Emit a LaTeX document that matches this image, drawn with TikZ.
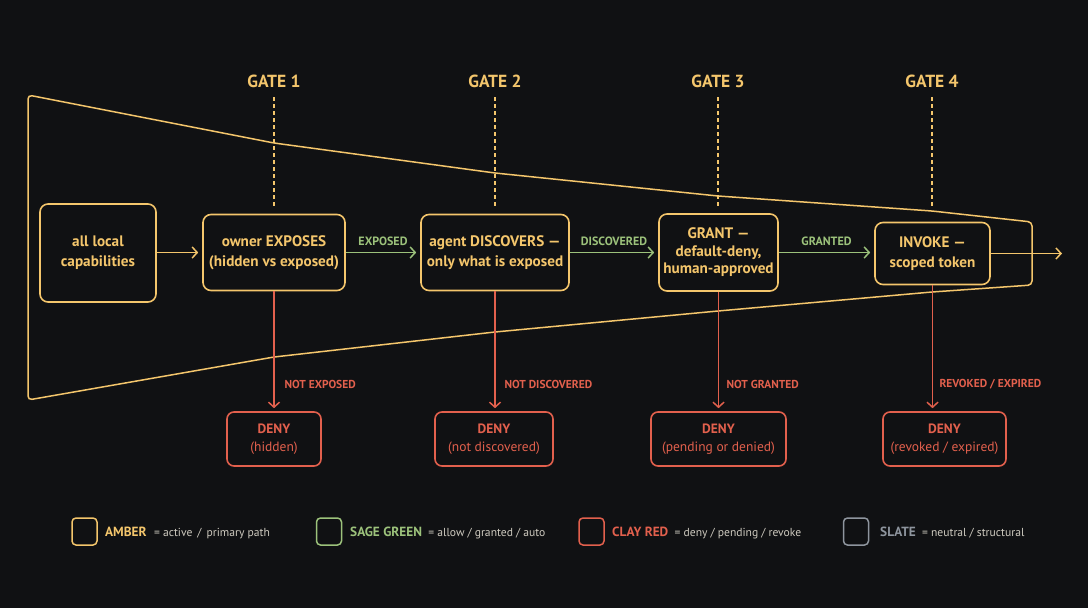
\documentclass[tikz,border=0pt]{standalone}
\usepackage{fontspec}
\setmainfont{PT Sans}
\usetikzlibrary{arrows.meta}
\definecolor{bg}{HTML}{101113}
\definecolor{amber}{HTML}{F4C66C}
\definecolor{sage}{HTML}{9CC27B}
\definecolor{clay}{HTML}{E2604D}
\definecolor{slate}{HTML}{8E959E}
\definecolor{desc}{HTML}{CFCBC0}
\begin{document}
\begin{tikzpicture}[x=1pt,y=-1pt,
  box/.style={draw=amber, line width=1.6pt, rounded corners=8pt, fill=bg, text=amber, align=center, inner sep=2pt,
    font=\fontsize{15.2}{20}\selectfont\bfseries},
  denybox/.style={draw=clay, line width=1.6pt, rounded corners=7pt, fill=bg, text=clay, align=center, inner sep=2pt,
    minimum height=54, font=\fontsize{13.5}{18}\selectfont},
  gatelbl/.style={text=amber, font=\fontsize{17.5}{20}\selectfont\bfseries},
  gateline/.style={draw=amber, line width=1.1pt, dash pattern=on 4pt off 3pt},
  tip/.style={-{Straight Barb[length=5pt,width=11pt,line width=1.5pt]}},
  amberarrow/.style={draw=amber, line width=1.5pt, tip},
  greenarrow/.style={draw=sage, line width=1.5pt, tip},
  redarrow/.style={draw=clay, line width=1.5pt, tip},
  greenlbl/.style={text=sage, font=\fontsize{12}{14}\selectfont\bfseries},
  redlbl/.style={text=clay, anchor=west, font=\fontsize{11.5}{14}\selectfont\bfseries},
  legsq/.style={draw=#1, line width=1.5pt, rounded corners=4pt, minimum width=25, minimum height=27, inner sep=0pt},
  legname/.style={anchor=west, text=#1, inner sep=0pt, font=\fontsize{13.3}{15}\selectfont\bfseries},
  legdesc/.style={anchor=base west, text=desc, inner sep=0pt, font=\fontsize{11.6}{14}\selectfont}
]
\fill[bg] (0,0) rectangle (1088,608);
\useasboundingbox (0,0) rectangle (1088,608);

% funnel
\draw[amber, line width=1.5pt, rounded corners=4pt]
  (28,95) -- (274,143) -- (495,173) -- (718,196) -- (932,211) -- (1032,222)
  -- (1032,285) -- (932,292) -- (718,311) -- (495,332) -- (274,357) -- (28,400) -- cycle;

% gates
\node[gatelbl] (g1) at (274,81) {GATE 1};
\node[gatelbl] (g2) at (495,81) {GATE 2};
\node[gatelbl] (g3) at (718,81) {GATE 3};
\node[gatelbl] (g4) at (932,81) {GATE 4};
\coordinate (g1b) at (274,208);
\coordinate (g2b) at (495,208);
\coordinate (g3b) at (718,208);
\coordinate (g4b) at (932,208);
\coordinate (g1t) at (274,97);
\coordinate (g2t) at (495,97);
\coordinate (g3t) at (718,97);
\coordinate (g4t) at (932,97);
\draw[gateline] (g1t) -- (g1b);
\draw[gateline] (g2t) -- (g2b);
\draw[gateline] (g3t) -- (g3b);
\draw[gateline] (g4t) -- (g4b);

% main boxes
\node[box, minimum width=116, minimum height=98] (cap) at (98,253) {all local\\capabilities};
\node[box, minimum width=142, minimum height=76] (own) at (274,252.5) {owner EXPOSES\\(hidden vs exposed)};
\node[box, minimum width=148, minimum height=76] (agt) at (495,252.5) {agent DISCOVERS ---\\only what is exposed};
\node[box, minimum width=119, minimum height=77, font=\fontsize{15.2}{17.5}\selectfont\bfseries] (grt) at (718.5,252.5) {GRANT ---\\default-deny,\\human-approved};
\node[box, minimum width=115, minimum height=62] (inv) at (932.5,253.5) {INVOKE ---\\scoped token};

% deny boxes
\node[denybox, minimum width=94] (d1) at (274,439) {\textbf{DENY}\\(hidden)};
\node[denybox, minimum width=118] (d2) at (494,439) {\textbf{DENY}\\(not discovered)};
\node[denybox, minimum width=135] (d3) at (718.5,439) {\textbf{DENY}\\(pending or denied)};
\node[denybox, minimum width=123] (d4) at (944.5,439) {\textbf{DENY}\\(revoked / expired)};

% main flow
\draw[amberarrow, shorten >=4pt] (cap.east |- own.west) -- (own.west);
\draw[greenarrow, shorten >=4pt] (own.east) -- (agt.west) node[greenlbl, midway, above=3pt] (l1) {EXPOSED};
\draw[greenarrow, shorten >=4pt] (agt.east) -- (grt.west) node[greenlbl, midway, above=3pt] (l2) {DISCOVERED};
\draw[greenarrow, shorten >=4pt] (grt.east) -- (grt.east -| inv.west) node[greenlbl, midway, above=3pt] (l3) {GRANTED};
\coordinate (out) at (1062,253.5);
\draw[amberarrow] (inv.east) -- (out);

% deny flow
\draw[redarrow, shorten >=3pt] (own.south) -- (d1.north);
\draw[redarrow, shorten >=3pt] (agt.south) -- (agt.south |- d2.north);
\draw[redarrow, shorten >=3pt] (grt.south) -- (d3.north);
\draw[redarrow, shorten >=3pt] (inv.south) -- (inv.south |- d4.north);
\node[redlbl] (r1) at (281,384) {NOT EXPOSED};
\node[redlbl] (r2) at (501,384) {NOT DISCOVERED};
\node[redlbl] (r3) at (723,384) {NOT GRANTED};
\node[redlbl] (r4) at (936,384) {REVOKED / EXPIRED};

% legend
\node[legsq=amber] (s1) at (84.5,531.5) {};
\node[legname=amber] (n1) at (105,532) {AMBER};
\node[legdesc] (t1) at ([xshift=7pt]n1.base east) {= active \,/\, primary path};
\node[legsq=sage] (s2) at (329,531.5) {};
\node[legname=sage] (n2) at (350,532) {SAGE GREEN};
\node[legdesc] (t2) at ([xshift=6pt]n2.base east) {= allow / granted / auto};
\node[legsq=clay] (s3) at (591.5,531.5) {};
\node[legname=clay] (n3) at (612,532) {CLAY RED};
\node[legdesc] (t3) at ([xshift=6pt]n3.base east) {= deny / pending / revoke};
\node[legsq=slate] (s4) at (856,531.5) {};
\node[legname=slate] (n4) at (880,532) {SLATE};
\node[legdesc] (t4) at ([xshift=6pt]n4.base east) {= neutral / structural};
\end{tikzpicture}
\end{document}
